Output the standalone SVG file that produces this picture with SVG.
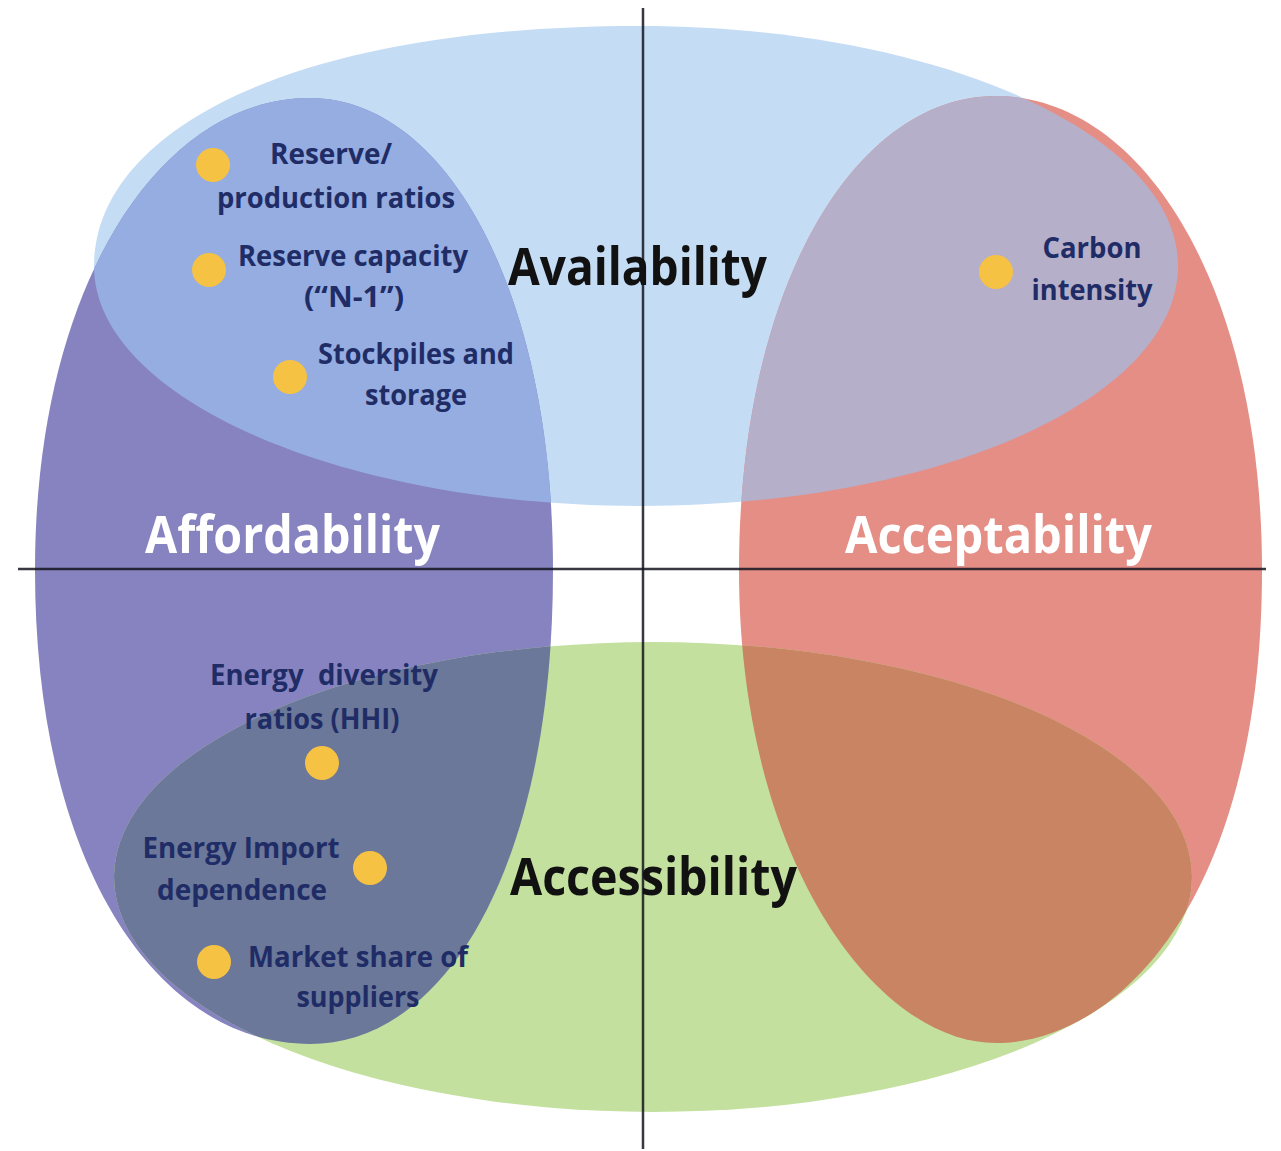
<svg xmlns="http://www.w3.org/2000/svg" xmlns:xlink="http://www.w3.org/1999/xlink" width="1281" height="1151" viewBox="0 0 1281 1151">
<style>
.big{font-family:"Open Sans","Noto Sans","Liberation Sans",sans-serif;font-weight:700;font-size:52px;text-anchor:middle}
.lbl{font-family:"Open Sans","Noto Sans","Liberation Sans",sans-serif;font-weight:700;font-size:29px;fill:#1F2C66;text-anchor:middle}
.dot{fill:#F6C243}
.axis{stroke:#151520;stroke-width:2.5;stroke-opacity:0.85;fill:none}
</style>
<defs>
<path id="eBlue" d="M94,266 C94,134 285,26 640,26 C936,26 1178,134 1178,266 C1178,399 937,506 640,506 C343,506 94,399 94,266 Z"/>
<path id="ePurple" d="M310,98 C444,98 553,287 553,570 C553,870 444,1044 310,1044 C160,1044 35,870 35,570 C35,287 159,98 310,98 Z"/>
<path id="eRed" d="M996,96 C1142,96 1262,286 1262,570 C1262,901 1116,1043 996,1043 C876,1043 739,860 739,570 C739,286 855,96 996,96 Z"/>
<ellipse id="eGreen" cx="653" cy="877" rx="539" ry="235"/>
<clipPath id="cBlue"><use xlink:href="#eBlue"/></clipPath>
<clipPath id="cGreen"><use xlink:href="#eGreen"/></clipPath>
</defs>
<rect width="1281" height="1151" fill="#FFFFFF"/>
<g id="availability"><use xlink:href="#eBlue" fill="#C5DCF5"/></g>
<g id="affordability"><use xlink:href="#ePurple" fill="#8683C0"/></g>
<g id="acceptability"><use xlink:href="#eRed" fill="#E48E86"/></g>
<g id="accessibility"><use xlink:href="#eGreen" fill="#C4E09F"/></g>
<g id="overlaps">
<use xlink:href="#ePurple" fill="#95ADE0" clip-path="url(#cBlue)"/>
<use xlink:href="#eRed" fill="#B6AFC9" clip-path="url(#cBlue)"/>
<use xlink:href="#ePurple" fill="#6B7899" clip-path="url(#cGreen)"/>
<use xlink:href="#eRed" fill="#C98563" clip-path="url(#cGreen)"/>
</g>
<g id="connectors">
<line class="axis" x1="643" y1="8" x2="643" y2="1149"/>
<line class="axis" x1="18" y1="569" x2="1266" y2="569"/>
</g>
<g id="labels">
<text class="big" x="637.5" y="285" fill="#111111" textLength="259" lengthAdjust="spacingAndGlyphs">Availability</text>
<text class="big" x="292.5" y="553" fill="#FFFFFF" textLength="295" lengthAdjust="spacingAndGlyphs">Affordability</text>
<text class="big" x="998.5" y="553" fill="#FFFFFF" textLength="307" lengthAdjust="spacingAndGlyphs">Acceptability</text>
<text class="big" x="653.5" y="895" fill="#111111" textLength="287" lengthAdjust="spacingAndGlyphs">Accessibility</text>
</g>
<g id="ind-reserve-production">
<circle class="dot" cx="213" cy="165" r="17"/>
<text class="lbl" x="331" y="164" textLength="122" lengthAdjust="spacingAndGlyphs">Reserve/</text>
<text class="lbl" x="336" y="208" textLength="238" lengthAdjust="spacingAndGlyphs">production ratios</text>
</g>
<g id="ind-reserve-capacity">
<circle class="dot" cx="209" cy="270" r="17"/>
<text class="lbl" x="353" y="266" textLength="230" lengthAdjust="spacingAndGlyphs">Reserve capacity</text>
<text class="lbl" x="354" y="307" textLength="100" lengthAdjust="spacingAndGlyphs">(“N-1”)</text>
</g>
<g id="ind-stockpiles">
<circle class="dot" cx="290" cy="377" r="17"/>
<text class="lbl" x="416" y="364" textLength="196" lengthAdjust="spacingAndGlyphs">Stockpiles and</text>
<text class="lbl" x="416" y="405" textLength="102" lengthAdjust="spacingAndGlyphs">storage</text>
</g>
<g id="ind-carbon">
<circle class="dot" cx="996" cy="272" r="17"/>
<text class="lbl" x="1092" y="258" textLength="99" lengthAdjust="spacingAndGlyphs">Carbon</text>
<text class="lbl" x="1092" y="300" textLength="121" lengthAdjust="spacingAndGlyphs">intensity</text>
</g>
<g id="ind-diversity">
<circle class="dot" cx="322" cy="763" r="17"/>
<text class="lbl" x="324" y="685" textLength="228" lengthAdjust="spacingAndGlyphs" xml:space="preserve">Energy  diversity</text>
<text class="lbl" x="322" y="729" textLength="155" lengthAdjust="spacingAndGlyphs">ratios (HHI)</text>
</g>
<g id="ind-import">
<circle class="dot" cx="370" cy="868" r="17"/>
<text class="lbl" x="241" y="858" textLength="197" lengthAdjust="spacingAndGlyphs">Energy Import</text>
<text class="lbl" x="242" y="900" textLength="170" lengthAdjust="spacingAndGlyphs">dependence</text>
</g>
<g id="ind-market-share">
<circle class="dot" cx="214" cy="962" r="17"/>
<text class="lbl" x="358" y="967" textLength="220" lengthAdjust="spacingAndGlyphs">Market share of</text>
<text class="lbl" x="358" y="1007" textLength="123" lengthAdjust="spacingAndGlyphs">suppliers</text>
</g>
</svg>
